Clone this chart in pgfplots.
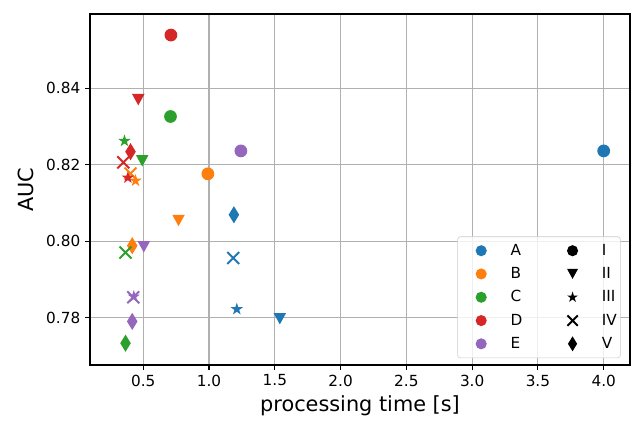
\documentclass[border=0pt]{standalone}
\usepackage{fontspec}
\setmainfont{DejaVu Sans}
\usepackage{pgfplots}
\pgfplotsset{compat=1.18}

\definecolor{cA}{HTML}{1F77B4}
\definecolor{cB}{HTML}{FF7F0E}
\definecolor{cC}{HTML}{2CA02C}
\definecolor{cD}{HTML}{D62728}
\definecolor{cE}{HTML}{9467BD}
\definecolor{gridgray}{HTML}{B0B0B0}
\definecolor{legframe}{HTML}{CCCCCC}

% marker shapes (matplotlib o, v, *, x, d)
\pgfdeclareplotmark{fcirc}{\pgfpathcircle{\pgfpointorigin}{4.6pt}\pgfusepathqfill}
\pgfdeclareplotmark{tdown}{%
  \pgfpathmoveto{\pgfqpoint{0pt}{-4.1pt}}%
  \pgfpathlineto{\pgfqpoint{-4.5pt}{4.1pt}}%
  \pgfpathlineto{\pgfqpoint{4.5pt}{4.1pt}}%
  \pgfpathclose\pgfusepathqfill}
\pgfdeclareplotmark{fstar}{%
  \pgfpathmoveto{\pgfpointpolar{90}{4.7pt}}%
  \pgfpathlineto{\pgfpointpolar{126}{1.8pt}}%
  \pgfpathlineto{\pgfpointpolar{162}{4.7pt}}%
  \pgfpathlineto{\pgfpointpolar{198}{1.8pt}}%
  \pgfpathlineto{\pgfpointpolar{234}{4.7pt}}%
  \pgfpathlineto{\pgfpointpolar{270}{1.8pt}}%
  \pgfpathlineto{\pgfpointpolar{306}{4.7pt}}%
  \pgfpathlineto{\pgfpointpolar{342}{1.8pt}}%
  \pgfpathlineto{\pgfpointpolar{18}{4.7pt}}%
  \pgfpathlineto{\pgfpointpolar{54}{1.8pt}}%
  \pgfpathclose\pgfusepathqfill}
\pgfdeclareplotmark{xx}{%
  \pgfsetlinewidth{1.4pt}%
  \pgfpathmoveto{\pgfqpoint{-4.3pt}{-4.3pt}}\pgfpathlineto{\pgfqpoint{4.3pt}{4.3pt}}%
  \pgfpathmoveto{\pgfqpoint{-4.3pt}{4.3pt}}\pgfpathlineto{\pgfqpoint{4.3pt}{-4.3pt}}%
  \pgfusepathqstroke}
\pgfdeclareplotmark{thind}{%
  \pgfpathmoveto{\pgfqpoint{0pt}{6.2pt}}%
  \pgfpathlineto{\pgfqpoint{3.8pt}{0pt}}%
  \pgfpathlineto{\pgfqpoint{0pt}{-6.2pt}}%
  \pgfpathlineto{\pgfqpoint{-3.8pt}{0pt}}%
  \pgfpathclose\pgfusepathqfill}

\pgfplotsset{
  mI/.style={only marks, mark=fcirc},
  mII/.style={only marks, mark=tdown},
  mIII/.style={only marks, mark=fstar},
  mIV/.style={only marks, mark=xx},
  mV/.style={only marks, mark=thind},
}

\begin{document}
\begin{tikzpicture}
\begin{axis}[
    scale only axis,
    width=388.8pt,
    height=252.7pt,
    xmin=0.095, xmax=4.2,
    ymin=0.7676, ymax=0.8594,
    xtick={0.5,1.0,1.5,2.0,2.5,3.0,3.5,4.0},
    ytick={0.78,0.80,0.82,0.84},
    xticklabel style={/pgf/number format/.cd, fixed, fixed zerofill, precision=1},
    yticklabel style={/pgf/number format/.cd, fixed, fixed zerofill, precision=2},
    /pgf/number format/assume math mode=true,
    tick label style={font=\fontsize{11}{13}\selectfont},
    tick align=outside,
    xtick pos=bottom, ytick pos=left,
    major tick length=3.5pt,
    every tick/.style={black, line width=0.8pt},
    axis line style={black, line width=0.8pt},
    grid=major,
    major grid style={gridgray, line width=0.8pt},
    xlabel={processing time [s]},
    ylabel={AUC},
    label style={font=\fontsize{15}{18}\selectfont},
    xlabel style={at={(axis description cs:0.5,-0.1338)}, anchor=base},
    ylabel style={at={(axis description cs:-0.1055,0.5)}, anchor=base},
    legend columns=2,
    legend cell align=left,
    legend image code/.code={%
      \path (-16.2pt,0pt) (6pt,0pt);
      \draw[#1, fill opacity=1, draw opacity=1, mark options={scale=0.87}] plot coordinates {(0pt,0pt)};},
    legend style={
      at={(1,0)}, anchor=south east, xshift=-6.7pt, yshift=5pt,
      draw=legframe, rounded corners=2pt, fill=white, fill opacity=0.8, text opacity=1,
      font=\fontsize{11}{13}\selectfont,
      inner xsep=0.6pt, inner ysep=3.3pt,
      row sep=3.2pt,
      /tikz/every even column/.append style={column sep=17.8pt},
      /tikz/every odd column/.append style={column sep=12.9pt},
    },
]
% A
\addplot[mI, cA, forget plot] coordinates {(4.000,0.8236)};
\addplot[mII, cA, forget plot] coordinates {(1.538,0.7797)};
\addplot[mIII, cA, forget plot] coordinates {(1.211,0.7822)};
\addplot[mIV, cA, forget plot] coordinates {(1.184,0.7956)};
\addplot[mV, cA, forget plot] coordinates {(1.189,0.8069)};
% B
\addplot[mI, cB, forget plot] coordinates {(0.991,0.8176)};
\addplot[mII, cB, forget plot] coordinates {(0.768,0.8054)};
\addplot[mIII, cB, forget plot] coordinates {(0.441,0.8158)};
\addplot[mIV, cB, forget plot] coordinates {(0.403,0.8177)};
\addplot[mV, cB, forget plot] coordinates {(0.416,0.7988)};
% C
\addplot[mI, cC, forget plot] coordinates {(0.707,0.8326)};
\addplot[mII, cC, forget plot] coordinates {(0.492,0.8210)};
\addplot[mIII, cC, forget plot] coordinates {(0.357,0.8262)};
\addplot[mIV, cC, forget plot] coordinates {(0.365,0.7970)};
\addplot[mV, cC, forget plot] coordinates {(0.365,0.7733)};
% D
\addplot[mI, cD, forget plot] coordinates {(0.710,0.8539)};
\addplot[mII, cD, forget plot] coordinates {(0.462,0.8370)};
\addplot[mIII, cD, forget plot] coordinates {(0.383,0.8166)};
\addplot[mIV, cD, forget plot] coordinates {(0.348,0.8206)};
\addplot[mV, cD, forget plot] coordinates {(0.403,0.8234)};
% E
\addplot[mI, cE, forget plot] coordinates {(1.242,0.8236)};
\addplot[mII, cE, forget plot] coordinates {(0.504,0.7985)};
\addplot[mIII, cE, forget plot] coordinates {(0.428,0.7855)};
\addplot[mIV, cE, forget plot] coordinates {(0.424,0.7853)};
\addplot[mV, cE, forget plot] coordinates {(0.416,0.7790)};

\addlegendimage{mI, cA}\addlegendentry{A}
\addlegendimage{mI, black}\addlegendentry{I}
\addlegendimage{mI, cB}\addlegendentry{B}
\addlegendimage{mII, black}\addlegendentry{II}
\addlegendimage{mI, cC}\addlegendentry{C}
\addlegendimage{mIII, black}\addlegendentry{III}
\addlegendimage{mI, cD}\addlegendentry{D}
\addlegendimage{mIV, black}\addlegendentry{IV}
\addlegendimage{mI, cE}\addlegendentry{E}
\addlegendimage{mV, black}\addlegendentry{V}
\end{axis}
\pgfresetboundingbox
\useasboundingbox ([shift={(-64.8pt,-40.3pt)}]current axis.south west) rectangle ([shift={(392.4pt,262.8pt)}]current axis.south west);
\end{tikzpicture}
\end{document}
